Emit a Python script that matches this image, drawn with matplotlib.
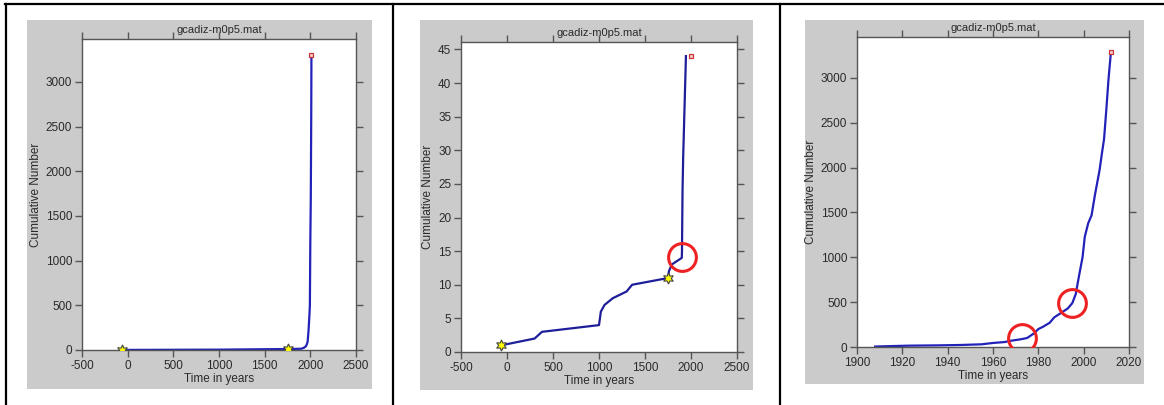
import matplotlib
matplotlib.use("Agg")
import matplotlib.pyplot as plt
from matplotlib.patches import Rectangle
from matplotlib.lines import Line2D

plt.rcParams['font.family'] = ['Liberation Sans', 'DejaVu Sans']
plt.rcParams['axes.unicode_minus'] = False

W, H = 1164, 405

# panel 1: whole catalogue
years1 = [-60, 300, 1000, 1750, 1900, 1930, 1950, 1960, 1970, 1980, 1990, 1995, 2000, 2005, 2010, 2012]
counts1 = [1, 2, 4, 11, 14, 25, 40, 60, 90, 210, 390, 500, 1230, 1700, 2650, 3300]
stars1_x = [-60, 1750]
stars1_y = [1, 11]
end1 = (2012, 3300)

# panel 2: first events
years2 = [-60, 300, 380, 1000, 1010, 1020, 1060, 1150, 1300, 1360, 1750, 1760, 1790, 1900,
          1902, 1908, 1915, 1925, 1945]
counts2 = [1, 2, 3, 4, 5, 6, 7, 8, 9, 10, 11, 12, 13, 14,
           15, 24, 29, 34, 44]
stars2_x = [-60, 1750]
stars2_y = [1, 11]
end2 = (2000, 44)
circles2_x = [1900]
circles2_y = [14.2]

# panel 3: instrumental period
years3 = [1908, 1915, 1923, 1935, 1945, 1955, 1960, 1965, 1968, 1972, 1975, 1978, 1980, 1982,
          1985, 1987, 1990, 1993, 1995, 1996.5, 1998, 1999.5, 2000.5, 2002, 2003.5, 2005,
          2007, 2008, 2009, 2010, 2011, 2012]
counts3 = [5, 10, 15, 18, 22, 30, 45, 55, 70, 85, 100, 150, 200, 225,
           270, 330, 380, 430, 490, 590, 800, 1000, 1230, 1380, 1470, 1700,
           1970, 2150, 2320, 2650, 3000, 3280]
end3 = (2012, 3285)
circles3_x = [1973, 1994.7]
circles3_y = [104, 487]

gray = '#cbcbcb'
blue = '#2222b8'
spine_c = '#555555'
txt_c = '#2a2a2a'


def fx(x):
    return x / W


def fy(y):
    return 1 - y / H


fig = plt.figure(figsize=(W / 100, H / 100), dpi=100, facecolor='white')

# table borders
fig.add_artist(Line2D([fx(5), 1], [fy(4), fy(4)], color='black', lw=1.6))
for xb in [6, 393, 780]:
    fig.add_artist(Line2D([fx(xb), fx(xb)], [fy(4), 0], color='black', lw=1.6))


def panel(gbox, abox, xlim, ylim, xticks, yticks):
    gx0, gy0, gx1, gy1 = gbox
    fig.add_artist(Rectangle((fx(gx0), fy(gy1)), fx(gx1 - gx0), (gy1 - gy0) / H,
                             facecolor=gray, edgecolor='none', zorder=0))
    ax0, ay0, ax1, ay1 = abox
    ax = fig.add_axes([fx(ax0), fy(ay1), fx(ax1 - ax0), (ay1 - ay0) / H])
    ax.set_facecolor('white')
    ax.set_xlim(*xlim)
    ax.set_ylim(*ylim)
    ax.set_xticks(xticks)
    ax.set_yticks(yticks)
    ax.tick_params(direction='out', length=5, width=1, colors=spine_c, labelcolor=txt_c,
                   labelsize=8.5, top=True, right=True, pad=2)
    for s in ax.spines.values():
        s.set_color(spine_c)
        s.set_linewidth(1)
    ax.set_title('gcadiz-m0p5.mat', fontsize=8, pad=4, color=txt_c)
    ax.set_xlabel('Time in years', fontsize=8.5, labelpad=1, color=txt_c)
    ax.set_ylabel('Cumulative Number', fontsize=8.5, labelpad=3, color=txt_c)
    return ax


star = dict(marker=(6, 1, 0), ms=8, mfc='#ffff00', mec='#444444', mew=0.8, ls='none', zorder=5)
endm = dict(marker='s', ms=3, mfc='#f4d0d0', mec='#cc3333', mew=0.9, ls='none', zorder=5)
circ = dict(marker='o', ms=20, mfc='none', mec='#ee2222', mew=2.2, ls='none', zorder=6)

# panel 1
ax1 = panel((27, 20, 372, 389), (82, 39, 356, 350), (-500, 2500), (0, 3480),
            range(-500, 2501, 500), range(0, 3001, 500))
ax1.plot(years1, counts1, color=blue, lw=1.6)
ax1.plot(stars1_x, stars1_y, **star)
ax1.plot([end1[0]], [end1[1]], **endm)

# panel 2
ax2 = panel((420, 20, 753, 390), (461, 42, 737, 352), (-500, 2500), (0, 46.1),
            range(-500, 2501, 500), range(0, 46, 5))
ax2.plot(years2, counts2, color='#1e1e9a', lw=1.6)
ax2.plot(stars2_x, stars2_y, **star)
ax2.plot([end2[0]], [end2[1]], **endm)
ax2.plot(circles2_x, circles2_y, **circ)

# panel 3
ax3 = panel((805, 20, 1144, 384), (857, 37, 1129, 347), (1900, 2020), (0, 3457),
            range(1900, 2021, 20), range(0, 3001, 500))
ax3.plot(years3, counts3, color=blue, lw=1.6)
ax3.plot([end3[0]], [end3[1]], **endm)
ax3.plot(circles3_x, circles3_y, **circ)

fig.savefig('out.png', dpi=100, facecolor='white')
